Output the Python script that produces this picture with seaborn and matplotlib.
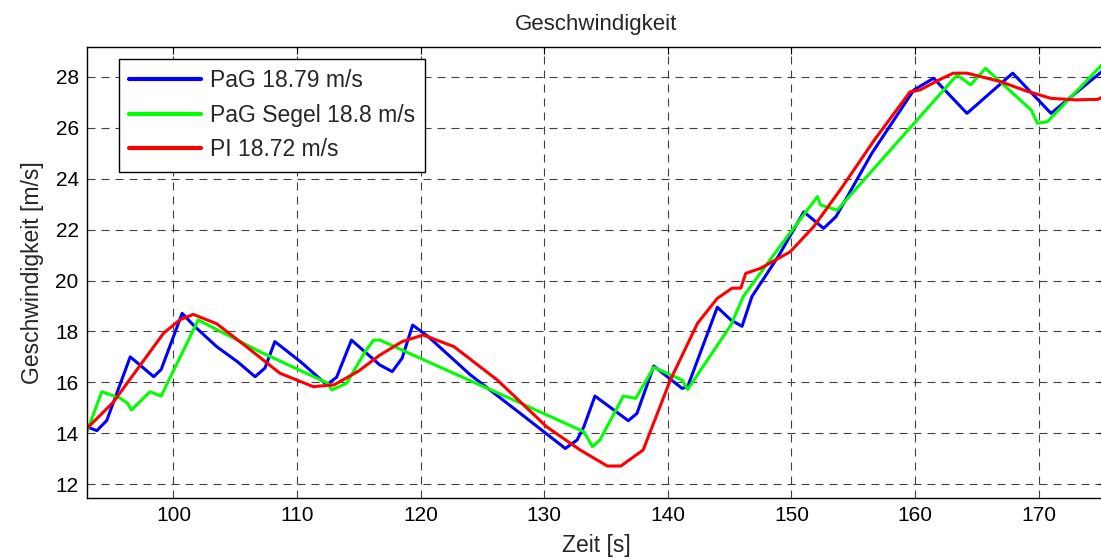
import pandas as pd
import matplotlib
matplotlib.use("Agg")
import matplotlib.pyplot as plt
import seaborn as sns

# series
pag_t = [93.0, 93.8, 94.6, 96.5, 98.4, 99.0, 100.7, 101.7, 103.5, 105.2, 106.6, 107.4, 108.2,
         110.3, 112.4, 113.2, 114.4, 116.7, 117.7, 118.5, 119.35, 120.6, 124.0, 128.0, 131.7,
         132.65, 133.2, 134.1, 136.8, 137.5, 138.86, 141.15, 141.6, 144.0, 145.1, 146.0,
         146.8, 149.0, 151.0, 152.6, 153.6, 156.5, 159.9, 161.5, 164.2, 167.9, 171.0, 175.1]
pag_v = [14.25, 14.1, 14.5, 17.0, 16.22, 16.5, 18.71, 18.2, 17.4, 16.8, 16.22, 16.56, 17.6,
         16.8, 15.9, 16.2, 17.66, 16.68, 16.42, 16.95, 18.25, 17.8, 16.3, 14.8, 13.4,
         13.73, 14.25, 15.46, 14.49, 14.78, 16.64, 15.76, 15.83, 18.95, 18.45, 18.2,
         19.37, 21.0, 22.7, 22.05, 22.51, 25.0, 27.49, 27.95, 26.57, 28.15, 26.57, 28.21]

segel_t = [93.0, 94.2, 95.7, 96.3, 96.6, 98.1, 99.0, 102.0, 107.0, 112.5, 112.8, 114.0,
           115.5, 116.2, 116.7, 122.0, 128.0, 133.2, 133.9, 134.5, 136.4, 137.4, 138.86,
           141.15, 141.6, 145.1, 146.1, 149.0, 152.1, 152.35, 153.7, 158.5, 163.4, 164.5,
           165.7, 169.4, 169.9, 170.7, 175.1]
segel_v = [14.06, 15.63, 15.37, 15.17, 14.91, 15.63, 15.46, 18.45, 17.2, 15.96, 15.7, 15.96,
           17.2, 17.66, 17.66, 16.5, 15.2, 14.06, 13.47, 13.73, 15.46, 15.37, 16.59,
           16.09, 15.72, 18.25, 19.37, 21.3, 23.3, 22.97, 22.77, 25.4, 28.08, 27.69,
           28.34, 26.7, 26.18, 26.24, 28.47]

pi_t = [93.0, 95.1, 97.2, 99.2, 100.5, 101.6, 103.5, 105.9, 108.6, 111.3, 113.0, 115.0,
        116.7, 118.5, 120.2, 122.7, 126.2, 130.2, 132.9, 135.1, 136.2, 138.0, 140.2,
        142.4, 144.0, 145.2, 145.9, 146.3, 147.5, 149.9, 151.8, 154.0, 156.7, 159.6,
        160.4, 162.0, 163.1, 164.2, 166.9, 169.0, 171.0, 173.0, 174.8, 175.1]
pi_v = [14.19, 15.2, 16.6, 17.93, 18.45, 18.67, 18.3, 17.4, 16.36, 15.83, 15.9, 16.45,
        17.07, 17.6, 17.86, 17.4, 16.09, 14.25, 13.34, 12.71, 12.71, 13.34, 16.09,
        18.32, 19.3, 19.7, 19.7, 20.28, 20.48, 21.13, 22.12, 23.6, 25.52, 27.42,
        27.49, 27.9, 28.15, 28.15, 27.82, 27.45, 27.16, 27.1, 27.12, 27.2]

labels = ["PaG 18.79 m/s", "PaG Segel 18.8 m/s", "PI 18.72 m/s"]
colors = ["#0000ff", "#00ff00", "#ff0000"]

df = pd.concat([
    pd.DataFrame({"t": pag_t, "v": pag_v, "Regler": labels[0]}),
    pd.DataFrame({"t": segel_t, "v": segel_v, "Regler": labels[1]}),
    pd.DataFrame({"t": pi_t, "v": pi_v, "Regler": labels[2]}),
])

sns.set_theme(style="white")
plt.rcParams['font.family'] = ['Liberation Sans', 'DejaVu Sans']

fig = plt.figure(figsize=(11.01, 5.59), dpi=100)
ax = fig.add_axes([0.079, 0.109, 0.925, 0.807])

sns.lineplot(data=df, x="t", y="v", hue="Regler", palette=colors, estimator=None,
             sort=False, linewidth=2.2, ax=ax)

ax.set_xlim(93, 175.4)
ax.set_ylim(11.45, 29.18)
ax.set_xticks(range(100, 171, 10))
ax.set_yticks(range(12, 29, 2))
ax.grid(True, color="#404040", linestyle=(0, (7.2, 5.4)), linewidth=0.8)
ax.tick_params(direction="in", length=5, width=0.8, labelsize=15, colors="black",
               top=True, right=True, pad=6)
for s in ax.spines.values():
    s.set_color("black")
    s.set_linewidth(1.0)

ax.set_title("Geschwindigkeit", fontsize=16, pad=12)
ax.set_xlabel("Zeit [s]", fontsize=16.5, labelpad=6)
ax.set_ylabel("Geschwindigkeit [m/s]", fontsize=16.5, labelpad=8)

leg = ax.legend(loc="upper left", bbox_to_anchor=(0.0316, 0.973), borderaxespad=0,
                fontsize=16.5, frameon=True, fancybox=False, framealpha=1,
                edgecolor="black", handlelength=3.1, handletextpad=0.4,
                labelspacing=0.5, borderpad=0.45)
leg.get_frame().set_linewidth(1.0)
for line in leg.get_lines():
    line.set_linewidth(3)

fig.savefig("out.png", dpi=100)
